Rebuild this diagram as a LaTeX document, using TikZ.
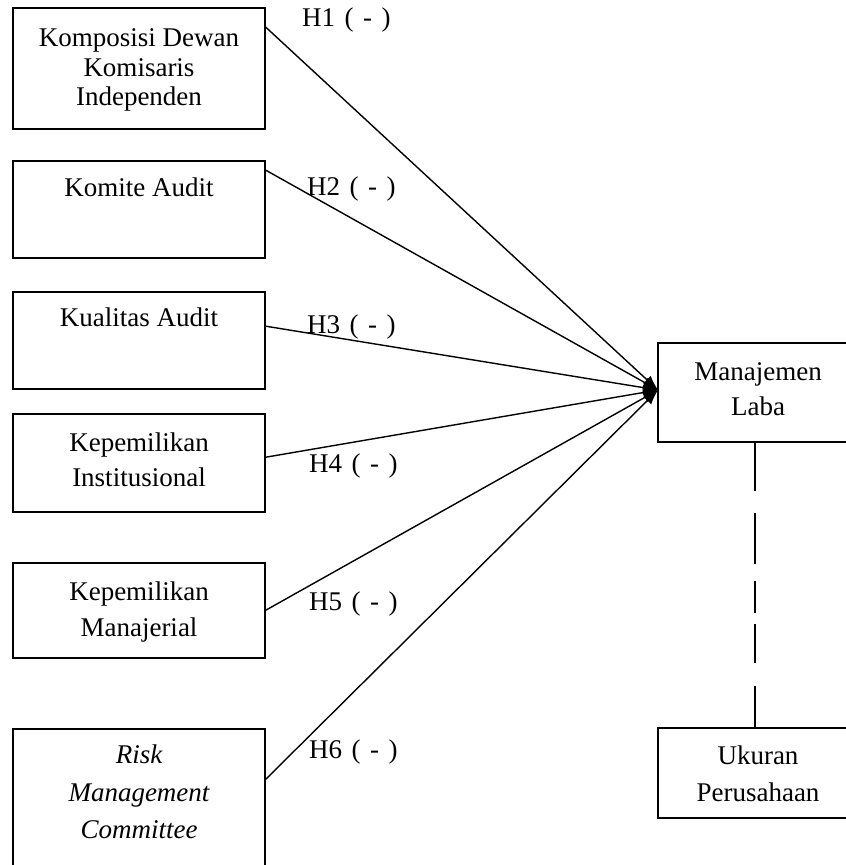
\documentclass[tikz,border=0pt]{standalone}
\usepackage{fontspec}
\setmainfont{Liberation Serif}
\usetikzlibrary{arrows.meta}
\newcommand{\widespacing}{\spaceskip=9.5pt\relax}
\begin{document}
\begin{tikzpicture}[x=1pt,y=-1pt,
  box/.style={draw=black,line width=1.6pt,rectangle,inner sep=0pt,minimum width=252pt},
  rbox/.style={draw=black,line width=1.6pt,rectangle,inner sep=0pt,minimum width=200pt},
  txt/.style={inner sep=0pt,align=center,font=\fontsize{27}{35}\selectfont},
  hlab/.style={inner sep=0pt,anchor=base west,font=\fontsize{27}{30}\selectfont,execute at begin node=\widespacing},
  link/.style={line width=1.4pt,-{Latex[length=15pt,width=11pt]}}]
\useasboundingbox (0,0) rectangle (846,865);
\clip (0,0) rectangle (846,865);
% left boxes
\node[box,minimum height=121pt] (b1) at (139,68.5) {};
\node[box,minimum height=97pt] (b2) at (139,209.5) {};
\node[box,minimum height=97pt] (b3) at (139,340.5) {};
\node[box,minimum height=98pt] (b4) at (139,463) {};
\node[box,minimum height=95pt] (b5) at (139,610.5) {};
\node[box,minimum height=151pt] (b6) at (139,804.5) {};
% right boxes
\node[rbox,minimum height=99pt] (mb) at (758,392.5) {};
\node[rbox,minimum height=90pt] (ub) at (758,773) {};
% texts
\node[txt,font=\fontsize{27}{29.5}\selectfont] (t1) at (139,70) {Komposisi Dewan\\Komisaris\\Independen};
\node[txt] (t2) at (139,187) {Komite Audit};
\node[txt] (t3) at (139,317) {Kualitas Audit};
\node[txt] (t4) at (139,460) {Kepemilikan\\Institusional};
\node[txt,font=\fontsize{27}{36}\selectfont] (t5) at (139,612) {Kepemilikan\\Manajerial};
\node[txt,font=\fontsize{27}{37.5}\selectfont\itshape] (t6) at (139,792) {Risk\\Management\\Committee};
\node[txt] (t7) at (758,389) {Manajemen\\Laba};
\node[txt,font=\fontsize{27}{37}\selectfont] (t8) at (758,774) {Ukuran\\Perusahaan};
% convergence point
\coordinate (tip) at (658,390);
% arrows
\draw[link] ([yshift=-20pt]b1.north east) -- (tip);
\draw[link] ([yshift=-10pt]b2.north east) -- (tip);
\draw[link] ([yshift=-35pt]b3.north east) -- (tip);
\draw[link] ([yshift=-44pt]b4.north east) -- (tip);
\draw[link] ([yshift=-48pt]b5.north east) -- (tip);
\draw[link] ([yshift=-51pt]b6.north east) -- (tip);
% labels
\node[hlab] (h1) at (302,26) {H1 ( - )};
\node[hlab] (h2) at (307,195) {H2 ( - )};
\node[hlab] (h3) at (307,333) {H3 ( - )};
\node[hlab] (h4) at (309,472) {H4 ( - )};
\node[hlab] (h5) at (309,610) {H5 ( - )};
\node[hlab] (h6) at (309,758) {H6 ( - )};
% dashed moderator line
\draw[line width=1.4pt,dash pattern=on 48pt off 22pt on 51pt off 17pt on 32pt off 11pt on 39pt off 23pt on 43pt]
  ([xshift=-3pt]mb.south) -- ([xshift=-3pt]ub.north);
\end{tikzpicture}
\end{document}
